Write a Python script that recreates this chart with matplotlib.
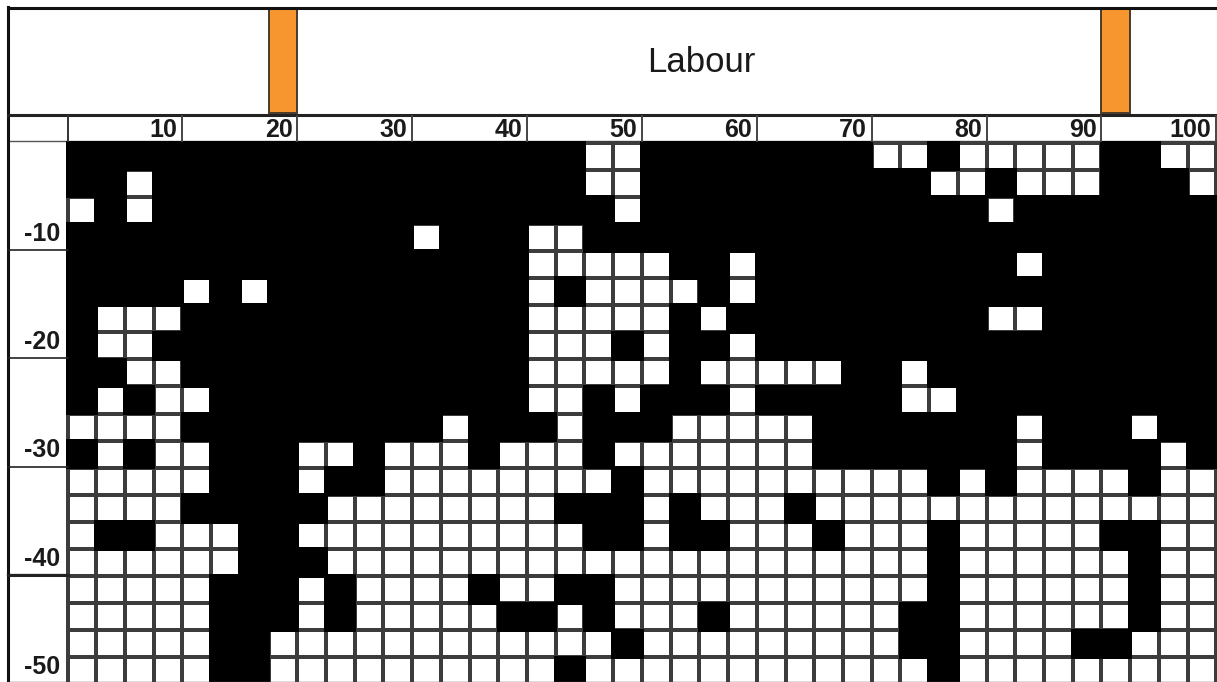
import numpy as np
import matplotlib
matplotlib.use("Agg")
import matplotlib.pyplot as plt
from matplotlib.patches import Rectangle

title = "Labour"
x_tick_values = [10, 20, 30, 40, 50, 60, 70, 80, 90, 100]
y_tick_values = [-10, -20, -30, -40, -50]
orange_cell_right_edges = [20, 92.5]
cell_size = 2.5
n_cols = 40
n_rows = 20

# 1-based column numbers of the white cells, one list per row (top to bottom)
white_r01 = [19,20,29,30,32,33,34,35,36,39,40]
white_r02 = [3,19,20,31,32,34,35,36,40]
white_r03 = [1,3,20,33]
white_r04 = [13,17,18]
white_r05 = [17,18,19,20,21,24,34]
white_r06 = [5,7,17,19,20,21,22,24]
white_r07 = [2,3,4,17,18,19,20,21,23,33,34]
white_r08 = [2,3,17,18,19,21,24]
white_r09 = [3,4,17,18,19,20,21,23,24,25,26,27,30]
white_r10 = [2,4,5,17,18,20,24,30,31]
white_r11 = [1,2,3,4,14,18,22,23,24,25,26,34,38]
white_r12 = [2,4,5,9,10,12,13,14,16,17,18,20,21,22,23,24,25,26,34,39]
white_r13 = [1,2,3,4,5,9,12,13,14,15,16,17,18,19,21,22,23,24,25,26,27,28,29,30,32,34,35,36,37,39,40]
white_r14 = [1,2,3,4,10,11,12,13,14,15,16,17,21,23,24,25,27,28,29,30,31,32,33,34,35,36,37,38,39,40]
white_r15 = [1,4,5,6,9,10,11,12,13,14,15,16,17,18,21,24,25,26,28,29,30,32,33,34,35,36,39,40]
white_r16 = [1,2,3,4,5,6,10,11,12,13,14,15,16,17,18,19,20,21,22,23,24,25,26,27,28,29,30,32,33,34,35,36,37,39,40]
white_r17 = [1,2,3,4,5,9,11,12,13,14,16,17,20,21,22,23,24,25,26,27,28,29,30,32,33,34,35,36,37,39,40]
white_r18 = [1,2,3,4,5,9,11,12,13,14,15,18,20,21,22,24,25,26,27,28,29,32,33,34,35,36,37,39,40]
white_r19 = [1,2,3,4,5,8,9,10,11,12,13,14,15,16,17,18,19,21,22,23,24,25,26,27,28,29,32,33,34,35,38,39,40]
white_r20 = [1,2,3,4,5,8,9,10,11,12,13,14,15,16,17,19,20,21,22,23,24,25,26,27,28,29,30,32,33,34,35,36,37,38,39,40]
white_rows = [white_r01, white_r02, white_r03, white_r04, white_r05, white_r06, white_r07,
              white_r08, white_r09, white_r10, white_r11, white_r12, white_r13, white_r14,
              white_r15, white_r16, white_r17, white_r18, white_r19, white_r20]

W, H = 1217, 682
plt.rcParams['font.family'] = ['Liberation Sans', 'DejaVu Sans']
fig = plt.figure(figsize=(W/100, H/100), dpi=100, facecolor='white')

# single full-figure axes whose data units are the chart's own scale
X0, Y0 = 67.5, 142.5          # pixel of x=0, y=0
PX, PY = 28.72/2.5, 27.1/2.5  # pixels per unit
ax = fig.add_axes([0, 0, 1, 1])
ax.set_xlim(-X0/PX, (W-X0)/PX)
ax.set_ylim(-(H-Y0)/PY, Y0/PY)
ax.axis('off')
ux = lambda p: (p-X0)/PX
uy = lambda p: (Y0-p)/PY

# grid
x_edges = np.arange(n_cols+1)*cell_size
y_edges = -np.arange(n_rows+1)*cell_size
C = np.zeros((n_rows, n_cols))
for r, cols in enumerate(white_rows):
    for c in cols:
        C[r, c-1] = 1
ax.pcolormesh(x_edges, y_edges, C, cmap='gray', vmin=0, vmax=1,
              edgecolors='#3c3c3c', linewidth=1.7, zorder=2, clip_on=True)

# black fill behind dark cells so no grey seams show in the black area
for r in range(n_rows):
    for c in range(n_cols):
        if C[r, c] == 0:
            ax.add_patch(Rectangle((x_edges[c]-0.15, y_edges[r+1]-0.15), cell_size+0.3, cell_size+0.3,
                                   fc='black', ec='none', zorder=3))

# orange bars in the top band
for xr in orange_cell_right_edges:
    ax.bar(xr-cell_size/2, uy(8)-uy(113), width=cell_size, bottom=uy(113),
           color='#F7962F', edgecolor='#4a3a2a', linewidth=1.4, zorder=2)

# frame and separator
ax.plot([ux(8), ux(1217)], [uy(7.5), uy(7.5)], color='#111111', lw=2.2, zorder=5)
ax.plot([ux(8), ux(8)], [uy(7), uy(682)], color='#111111', lw=2.2, zorder=5)
ax.plot([ux(8), ux(1217)], [uy(114.5), uy(114.5)], color='#222222', lw=2.2, zorder=5)
ax.plot([ux(8), ux(1215)], [uy(141), uy(141)], color='#555555', lw=1.0, zorder=1)
ax.text(ux(701), uy(62), title, fontsize=25, ha='center', va='center', color='#1a1a1a')

# header row
ax.plot([0, 0], [uy(116), uy(141)], color='#333333', lw=1.4, zorder=5)
for v in x_tick_values:
    ax.plot([v, v], [uy(116), uy(141)], color='#444444', lw=1.4, zorder=5)
    ax.text(v-0.42, uy(130), str(v), fontsize=18, fontweight='bold', ha='right', va='center',
            color='#1a1a1a', fontstretch='condensed')

# left labels
ax.plot([0, 0], [0, uy(682)], color='#222222', lw=1.2, zorder=1)
for v in y_tick_values:
    ax.text(ux(60), v+1.6, str(v), fontsize=18, fontweight='bold', ha='right', va='center', color='#1a1a1a')
    lw = 2.2 if v == -40 else 1.2
    if v != -50:
        ax.plot([ux(8), 0], [v+0.1, v+0.1], color='#222222', lw=lw, zorder=5)
    else:
        ax.plot([ux(8), ux(1217)], [uy(681.5), uy(681.5)], color='#555555', lw=1.0, zorder=5)
ax.plot([ux(8), ux(1217)], [uy(575), uy(575)], color='#111111', lw=1.6, zorder=1)

fig.savefig('out.png', dpi=100, facecolor='white')
